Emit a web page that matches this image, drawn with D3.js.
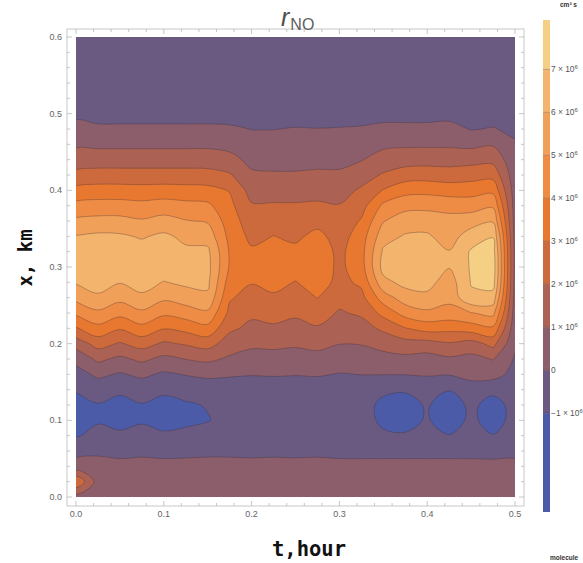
<!DOCTYPE html>
<html>
<head>
<meta charset="utf-8">
<script src="https://cdn.jsdelivr.net/npm/d3@7"></script>
<style>
  body { margin: 0; background: #fff; }
  svg { display: block; }
</style>
</head>
<body>
<div id="chart"></div>
<script>
// grid spacing of the sampled field
const tStep = 0.025; // hour
const xStep = 0.02;  // km

const tTicks = [0, 0.1, 0.2, 0.3, 0.4, 0.5];
const xTicks = [0, 0.1, 0.2, 0.3, 0.4, 0.5, 0.6];
const levels = [-1, 0, 1, 2, 3, 4, 5, 6, 7];
const bandColors = ["#4b5ba7", "#6a5a82", "#8c5e6c", "#ab6254", "#cd6a3d", "#e8782f",
                    "#ee8c46", "#f1a05a", "#f3b46d", "#f5cf83"];
const cbTicks = [-1, 0, 1, 2, 3, 4, 5, 6, 7];

// r_NO, units of 1e6 molecule/(cm^3 s); one array per t column, x = 0 .. 0.6 km
const r_t000 = [0.6, 2.9, 0.4, -0.3, -1.1, -1.5, -1.4, -0.9, -0.4, 0.3, 1.4, 2.9, 4.2, 5.3, 6.1, 6.45, 6.45, 6.05, 5.2, 4.3, 3.3, 2.3, 1.45, 0.85, 0.3, -0.2, -0.5, -0.5, -0.5, -0.5, -0.5];
const r_t025 = [0.6, 0.6, 0.4, -0.2, -0.7, -1.1, -1.05, -0.6, 0.2, 1.2, 2.4, 3.7, 4.8, 5.8, 6.5, 6.75, 6.65, 6.2, 5.3, 4.4, 3.4, 2.4, 1.5, 0.8, 0.2, -0.4, -0.5, -0.5, -0.5, -0.5, -0.5];
const r_t050 = [0.5, 0.6, 0.3, -0.3, -0.8, -1.35, -1.25, -0.85, -0.1, 0.8, 1.9, 3.1, 4.3, 5.3, 6.05, 6.6, 6.6, 6.15, 5.3, 4.4, 3.4, 2.4, 1.5, 0.8, 0.2, -0.4, -0.5, -0.5, -0.5, -0.5, -0.5];
const r_t075 = [0.5, 0.6, 0.3, -0.2, -0.7, -1.1, -1.05, -0.6, 0.2, 1.2, 2.4, 3.7, 4.8, 5.8, 6.4, 6.6, 6.45, 5.9, 5.1, 4.3, 3.35, 2.4, 1.5, 0.8, 0.2, -0.4, -0.5, -0.5, -0.5, -0.5, -0.5];
const r_t100 = [0.5, 0.6, 0.3, -0.3, -0.85, -1.35, -1.25, -0.85, -0.15, 0.75, 1.85, 3.05, 4.2, 5.2, 5.95, 6.6, 6.65, 6.2, 5.35, 4.45, 3.4, 2.4, 1.5, 0.8, 0.2, -0.4, -0.5, -0.5, -0.5, -0.5, -0.5];
const r_t125 = [0.5, 0.55, 0.3, -0.25, -0.75, -1.2, -1.1, -0.7, 0.05, 1.02, 2.1, 3.3, 4.5, 5.5, 6.2, 6.4, 6.2, 5.75, 5.05, 4.3, 3.35, 2.4, 1.5, 0.8, 0.2, -0.4, -0.5, -0.5, -0.5, -0.5, -0.5];
const r_t150 = [0.5, 0.55, 0.3, -0.2, -0.6, -1.05, -0.95, -0.55, 0.2, 1.2, 2.4, 3.7, 4.8, 5.8, 6.2, 6.3, 6.2, 5.6, 4.9, 4.2, 3.3, 2.35, 1.5, 0.8, 0.2, -0.4, -0.5, -0.5, -0.5, -0.5, -0.5];
const r_t175 = [0.5, 0.6, 0.3, -0.2, -0.55, -0.7, -0.65, -0.45, 0.1, 0.85, 1.5, 2.2, 2.75, 3.1, 3.5, 3.9, 3.9, 3.7, 3.5, 3.25, 2.95, 2.1, 1.3, 0.7, 0.15, -0.4, -0.5, -0.5, -0.5, -0.5, -0.5];
const r_t200 = [0.5, 0.6, 0.3, -0.25, -0.6, -0.75, -0.75, -0.55, 0.05, 0.6, 1.2, 1.75, 2.2, 2.65, 3.05, 3.45, 3.15, 2.75, 2.45, 2.1, 1.6, 1.15, 0.75, 0.4, -0.02, -0.4, -0.5, -0.5, -0.5, -0.5, -0.5];
const r_t225 = [0.5, 0.6, 0.3, -0.2, -0.6, -0.8, -0.8, -0.6, 0.1, 0.6, 1.25, 1.85, 2.35, 2.85, 3.3, 3.65, 3.55, 3.02, 2.55, 2.1, 1.6, 1.1, 0.7, 0.4, -0.02, -0.4, -0.5, -0.5, -0.5, -0.5, -0.5];
const r_t250 = [0.5, 0.6, 0.3, -0.25, -0.65, -0.8, -0.8, -0.6, 0.05, 0.55, 1.15, 1.7, 2.15, 2.6, 2.95, 3.5, 3.25, 2.8, 2.45, 2.1, 1.6, 1.1, 0.7, 0.4, 0.05, -0.4, -0.5, -0.5, -0.5, -0.5, -0.5];
const r_t275 = [0.5, 0.6, 0.3, -0.2, -0.6, -0.8, -0.8, -0.6, 0.1, 0.65, 1.3, 1.9, 2.45, 3.02, 3.5, 3.7, 3.6, 3.3, 2.65, 2.15, 1.65, 1.15, 0.75, 0.45, 0.02, -0.4, -0.5, -0.5, -0.5, -0.5, -0.5];
const r_t300 = [0.5, 0.6, 0.3, -0.3, -0.6, -0.75, -0.75, -0.65, -0.05, 0.5, 1.02, 1.55, 1.9, 2.3, 2.7, 2.75, 2.75, 2.55, 2.3, 2.05, 1.6, 1.15, 0.75, 0.45, 0.05, -0.4, -0.5, -0.5, -0.5, -0.5, -0.5];
const r_t325 = [0.5, 0.6, 0.3, -0.3, -0.6, -0.6, -0.6, -0.6, 0.02, 0.5, 1.05, 1.6, 2.15, 2.7, 3.2, 3.6, 3.65, 3.5, 3.1, 2.6, 2.15, 1.55, 0.95, 0.55, 0.1, -0.4, -0.5, -0.5, -0.5, -0.5, -0.5];
const r_t350 = [0.5, 0.6, 0.3, -0.3, -0.85, -1.2, -1.25, -0.8, 0.02, 0.7, 1.3, 2.2, 3.3, 4.5, 5.7, 6.35, 6.15, 5.6, 4.95, 4.2, 3.05, 2.1, 1.4, 0.8, 0.25, -0.35, -0.5, -0.5, -0.5, -0.5, -0.5];
const r_t375 = [0.5, 0.6, 0.3, -0.3, -0.9, -1.35, -1.35, -0.9, 0.03, 0.75, 1.6, 2.95, 4.4, 5.5, 6.3, 6.6, 6.55, 6.1, 5.5, 4.7, 3.65, 2.5, 1.55, 0.85, 0.25, -0.35, -0.5, -0.5, -0.5, -0.5, -0.5];
const r_t400 = [0.5, 0.6, 0.3, -0.3, -0.75, -0.9, -0.9, -0.7, 0.1, 0.6, 1.6, 3.4, 4.8, 5.75, 6.35, 6.7, 6.65, 6.15, 5.5, 4.75, 3.7, 2.55, 1.6, 0.85, 0.25, -0.35, -0.5, -0.5, -0.5, -0.5, -0.5];
const r_t425 = [0.5, 0.6, 0.3, -0.3, -0.95, -1.6, -1.6, -0.95, 0.05, 0.85, 1.9, 3.3, 4.6, 5.3, 5.5, 6.05, 6.05, 5.5, 5.3, 4.7, 3.5, 2.5, 1.55, 0.85, 0.3, -0.3, -0.5, -0.5, -0.5, -0.5, -0.5];
const r_t450 = [0.5, 0.6, 0.3, -0.3, -0.7, -0.75, -0.75, -0.5, 0.35, 0.7, 1.6, 3.5, 4.95, 6.85, 7.05, 7.1, 7.1, 6.55, 5.5, 4.6, 3.55, 2.6, 1.65, 0.75, -0.05, -0.35, -0.5, -0.5, -0.5, -0.5, -0.5];
const r_t475 = [0.5, 0.6, 0.3, -0.35, -0.95, -1.5, -1.45, -0.7, 0.35, 1.05, 2.3, 3.8, 5.3, 6.6, 7.4, 7.6, 7.45, 6.95, 5.9, 4.85, 3.75, 2.65, 1.7, 0.9, 0.05, -0.35, -0.5, -0.5, -0.5, -0.5, -0.5];
const r_t500 = [0.5, 0.55, 0.3, -0.3, -0.55, -0.6, -0.6, -0.5, -0.3, -0.1, 0.15, 0.35, 0.5, 0.6, 0.65, 0.7, 0.7, 0.65, 0.6, 0.55, 0.5, 0.4, 0.3, 0.1, -0.2, -0.45, -0.5, -0.5, -0.5, -0.5, -0.5];

const columns = [r_t000, r_t025, r_t050, r_t075, r_t100, r_t125, r_t150, r_t175, r_t200, r_t225,
                 r_t250, r_t275, r_t300, r_t325, r_t350, r_t375, r_t400, r_t425, r_t450, r_t475, r_t500];

const nt = columns.length;
const nx = columns[0].length;
const values = new Array(nt * nx);
for (let j = 0; j < nx; j++) {
  for (let i = 0; i < nt; i++) values[j * nt + i] = columns[i][j];
}

const W = 583, H = 563;
const svg = d3.select("#chart")
  .append("svg")
  .attr("width", W)
  .attr("height", H)
  .style("font-family", "'Liberation Sans', Arial, sans-serif");

const tScale = d3.scaleLinear().domain([0, 0.5]).range([76, 515]);
const xScale = d3.scaleLinear().domain([0, 0.6]).range([497, 37]);

svg.append("clipPath")
  .attr("id", "plotClip")
  .append("rect")
  .attr("x", tScale(0))
  .attr("y", xScale(0.6))
  .attr("width", tScale(0.5) - tScale(0))
  .attr("height", xScale(0) - xScale(0.6));

// filled contours
const contours = d3.contours().size([nt, nx]).thresholds(levels)(values);

const ringLine = d3.line()
  .x((p) => tScale((p[0] - 0.5) * tStep))
  .y((p) => xScale((p[1] - 0.5) * xStep))
  .curve(d3.curveCatmullRomClosed.alpha(0.5));

const pathOf = (c) =>
  c.coordinates.map((poly) => poly.map((r) => ringLine(r.slice(0, -1))).join("")).join("");

const plot = svg.append("g").attr("clip-path", "url(#plotClip)");

plot.append("rect")
  .attr("x", tScale(0))
  .attr("y", xScale(0.6))
  .attr("width", tScale(0.5) - tScale(0))
  .attr("height", xScale(0) - xScale(0.6))
  .attr("fill", bandColors[0]);

plot.append("g")
  .selectAll("path")
  .data(contours)
  .join("path")
  .attr("d", pathOf)
  .attr("fill", (d, i) => bandColors[i + 1])
  .attr("fill-rule", "evenodd");

plot.append("g")
  .selectAll("path")
  .data(contours)
  .join("path")
  .attr("d", pathOf)
  .attr("fill", "none")
  .attr("stroke", "#3a2a30")
  .attr("stroke-opacity", 0.55)
  .attr("stroke-width", 0.6);

// frame
const fx0 = 67, fx1 = 524, fy0 = 29, fy1 = 506;
svg.append("rect")
  .attr("x", fx0)
  .attr("y", fy0)
  .attr("width", fx1 - fx0)
  .attr("height", fy1 - fy0)
  .attr("fill", "none")
  .attr("stroke", "#c8c8c8")
  .attr("stroke-width", 1);

const ticks = svg.append("g").attr("stroke", "#b8b8b8").attr("stroke-width", 0.8);
d3.range(0, 0.5001, 0.02).forEach((v) => {
  const major = Math.abs(v * 10 - Math.round(v * 10)) < 1e-6;
  const len = major ? 5 : 3;
  const x = tScale(v);
  ticks.append("line").attr("x1", x).attr("x2", x).attr("y1", fy1).attr("y2", fy1 - len);
  ticks.append("line").attr("x1", x).attr("x2", x).attr("y1", fy0).attr("y2", fy0 + len);
});
d3.range(0, 0.6001, 0.02).forEach((v) => {
  const major = Math.abs(v * 10 - Math.round(v * 10)) < 1e-6;
  const len = major ? 5 : 3;
  const y = xScale(v);
  ticks.append("line").attr("y1", y).attr("y2", y).attr("x1", fx0).attr("x2", fx0 + len);
  ticks.append("line").attr("y1", y).attr("y2", y).attr("x1", fx1).attr("x2", fx1 - len);
});

svg.append("g")
  .selectAll("text")
  .data(tTicks)
  .join("text")
  .attr("x", (d) => tScale(d))
  .attr("y", 517)
  .attr("text-anchor", "middle")
  .attr("font-size", 9)
  .attr("fill", "#666")
  .text((d) => d3.format(".1f")(d));

svg.append("g")
  .selectAll("text")
  .data(xTicks)
  .join("text")
  .attr("x", 62)
  .attr("y", (d) => xScale(d))
  .attr("dy", "0.35em")
  .attr("text-anchor", "end")
  .attr("font-size", 9)
  .attr("fill", "#666")
  .text((d) => d3.format(".1f")(d));

// title
const title = svg.append("text").attr("x", 281).attr("y", 26).attr("fill", "#4e4e4e");
title.append("tspan").attr("font-style", "italic").attr("font-size", 25).text("r");
title.append("tspan").attr("font-size", 16).attr("dy", 4).attr("dx", 1).attr("fill", "#5e5e5e").text("NO");

// axis labels
svg.append("text")
  .attr("x", 309)
  .attr("y", 556)
  .attr("text-anchor", "middle")
  .attr("font-family", "'DejaVu Sans Mono', monospace")
  .attr("font-weight", "bold")
  .attr("font-size", 20.5)
  .attr("fill", "#111")
  .text("t,hour");

svg.append("text")
  .attr("transform", "translate(32,258) rotate(-90)")
  .attr("text-anchor", "middle")
  .attr("font-family", "'DejaVu Sans Mono', monospace")
  .attr("font-weight", "bold")
  .attr("font-size", 19)
  .attr("fill", "#111")
  .text("x, km");

// colour bar
const cbScale = d3.scaleLinear().domain([-3.3, 8.15]).range([512, 20]);
const cbBounds = [-3.3, ...levels, 8.15];
const cb = svg.append("g");
cb.selectAll("rect")
  .data(bandColors)
  .join("rect")
  .attr("x", 543)
  .attr("width", 7)
  .attr("y", (d, i) => cbScale(cbBounds[i + 1]))
  .attr("height", (d, i) => cbScale(cbBounds[i]) - cbScale(cbBounds[i + 1]))
  .attr("fill", (d) => d);

cb.selectAll("line")
  .data(levels)
  .join("line")
  .attr("x1", 543)
  .attr("x2", 550)
  .attr("y1", (d) => cbScale(d))
  .attr("y2", (d) => cbScale(d))
  .attr("stroke", "#3a2a30")
  .attr("stroke-opacity", 0.5)
  .attr("stroke-width", 0.6);

const cbLabels = cb.append("g")
  .selectAll("text")
  .data(cbTicks)
  .join("text")
  .attr("x", 551)
  .attr("y", (d) => cbScale(d))
  .attr("dy", "0.35em")
  .attr("font-size", 8.4)
  .attr("fill", "#555");
cbLabels.append("tspan").text((d) => (d === 0 ? "0" : (d < 0 ? "\u2212" + -d : d) + " \u00d7 10"));
cbLabels.filter((d) => d !== 0)
  .append("tspan")
  .attr("font-size", 6)
  .attr("dy", -3.5)
  .text("6");

svg.append("text")
  .attr("x", 560)
  .attr("y", 7)
  .attr("font-size", 6.5)
  .attr("font-weight", "bold")
  .attr("fill", "#333")
  .text("cm\u00b3 s");

svg.append("text")
  .attr("x", 550)
  .attr("y", 560)
  .attr("font-size", 6.5)
  .attr("font-weight", "bold")
  .attr("fill", "#333")
  .text("molecule");
</script>
</body>
</html>
